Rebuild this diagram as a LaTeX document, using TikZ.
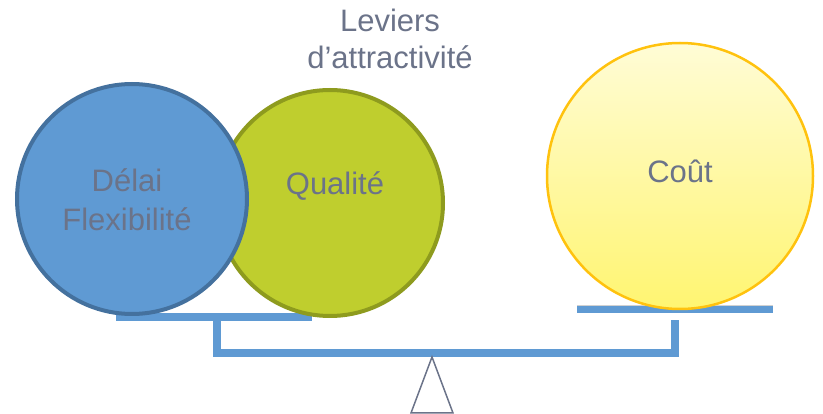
\documentclass[tikz,border=0pt]{standalone}
\usepackage{fontspec}
\setmainfont{Liberation Sans}
\usepackage{xcolor}
\usetikzlibrary{positioning,calc}
\definecolor{texte}{HTML}{6B7389}
\definecolor{fleau}{HTML}{5F9AD3}
\definecolor{bleuBord}{HTML}{44719E}
\definecolor{vert}{HTML}{BFCE2E}
\definecolor{vertBord}{HTML}{8E9B1E}
\definecolor{jauneHaut}{HTML}{FFFCD6}
\definecolor{jauneBas}{HTML}{FFF571}
\definecolor{jauneBord}{HTML}{FFC20E}
\tikzset{
levier/.style={
  circle,
  inner sep=0pt,
  line width=4pt
},
etiquette/.style={
  text=texte,
  inner sep=0pt,
  align=center,
  font=\fontsize{31}{39}\selectfont
},
barre/.style={draw=fleau, line width=8pt},
ombre/.style={draw=black, opacity=0.18, line width=8pt},
}

\begin{document}
\begin{tikzpicture}[x=1pt,y=-1pt]
            \useasboundingbox (0,0) rectangle (823,414);
            % points du fleau
            \coordinate (pg1) at (116,317);
            \coordinate (pg2) at (312,317);
            \coordinate (pd1) at (577,309.5);
            \coordinate (pd2) at (773,309.5);
            \coordinate (tg) at (217,321);
            \coordinate (bg) at (217,353);
            \coordinate (bd) at (675,353);
            \coordinate (td) at (675,320);
            % ombres
            \begin{scope}[shift={(2,4)}]
            \draw[ombre] (pg1) -- (pg2);
            \draw[ombre] (pd1) -- (pd2);
            \draw[ombre] (tg) -- (bg) -- (bd) -- (td);
            \end{scope}
            \draw[barre] (pg1) -- (pg2);
            \draw[barre, line width=7pt] (pd1) -- (pd2);
            \draw[barre] (tg) -- (bg) -- (bd) -- (td);
            % pivot
            \coordinate (sommet) at (432,357);
            \draw[texte, line width=1.5pt, fill=white]
                (sommet) -- (411,413) -- (453,413) -- cycle;
            % cercles
            \node[levier, draw=vertBord, fill=vert, minimum size=226pt] (qualite) at (330,203) {};
            \node[levier, draw=bleuBord, fill=fleau, minimum size=230pt] (delai) at (132,199) {};
            \node[levier, draw=jauneBord, line width=2.5pt, top color=jauneHaut, bottom color=jauneBas,
                  minimum size=266pt] (cout) at (680,176) {};
            % textes
            \node[etiquette] (tDelai) at (127,200) {Délai\\Flexibilité};
            \node[etiquette, anchor=base] (tQualite) at (335,195) {Qualité};
            \node[etiquette, anchor=base] (tCout) at (680,183) {Coût};
            \node[etiquette, font=\fontsize{31}{37}\selectfont] (leviers) at (390,39) {Leviers\\d’attractivité};
        \end{tikzpicture}
\end{document}
